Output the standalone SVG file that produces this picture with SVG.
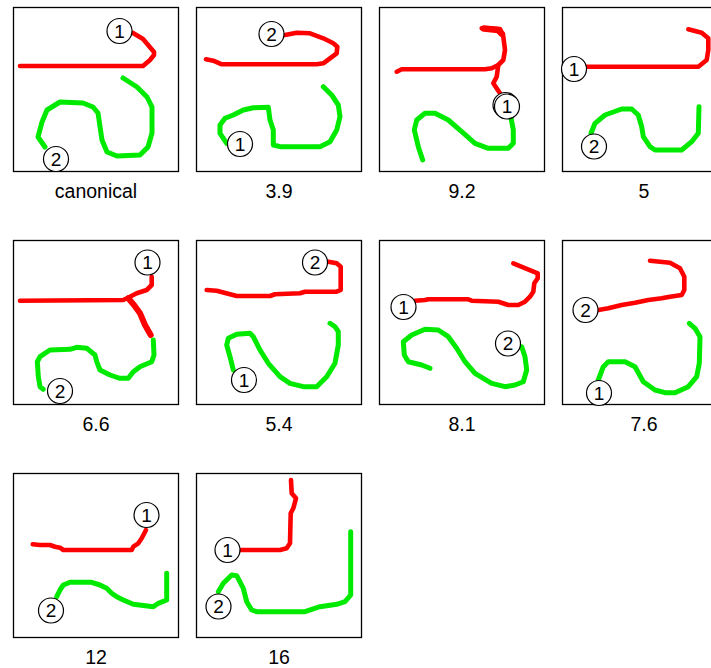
<svg xmlns="http://www.w3.org/2000/svg" width="711" height="668" viewBox="0 0 711 668">
<style>
.frame{fill:#fff;stroke:#000;stroke-width:1.3}
.red{fill:none;stroke:#ff0000;stroke-width:4.6;stroke-linecap:round;stroke-linejoin:round}
.green{fill:none;stroke:#00ea00;stroke-width:5;stroke-linecap:round;stroke-linejoin:round}
.mk{fill:#fff;stroke:#000;stroke-width:1.2}
.mkt{font-family:"Liberation Sans",Arial,sans-serif;font-size:19px;text-anchor:middle;fill:#000}
.lbl{font-family:"Liberation Sans",Arial,sans-serif;font-size:19.5px;text-anchor:middle;fill:#000}
</style>
<rect width="711" height="668" fill="#fff"/>

<g id="p-canonical">
<rect class="frame" x="13.5" y="7.5" width="165" height="164"/>
<polyline class="red" points="133,33 143,39 154,52 154,55 150,60 143,66 20,66"/>
<polyline class="green" points="123,78 137,87 147,97 152,107 152,133 148,147 140,155 117,156 107,152 102,140 98,113 93,107 83,103 60,102 47,110 42,122 38,137 45,147"/>
<circle class="mk" cx="119.5" cy="31" r="12.5"/><text class="mkt" x="119.5" y="37.8">1</text>
<circle class="mk" cx="56" cy="159" r="12.5"/><text class="mkt" x="56" y="165.8">2</text>
<text class="lbl" x="96" y="198">canonical</text>
</g>

<g id="p-3-9">
<rect class="frame" x="196.5" y="7.5" width="165" height="164"/>
<polyline class="red" points="285,35 296.7,32.7 310,33.3 323.3,38.3 333.3,43.3 337.3,46.7 336.7,53.3 330,58.3 323.3,63.3 316.7,64.3 221.7,64.3 213.3,60.7 206,59.3"/>
<polyline class="green" points="226.7,143.3 220,133.3 220,125 225,118.3 233.3,115 243.3,110 253.3,107.7 268.3,107.3 270,120 273.3,130 273.3,145 280,146.7 320,146.7 330,141.7 336.7,130 340,116.7 338.3,105 331.7,95 323.3,86.7"/>
<circle class="mk" cx="271.5" cy="34" r="12.5"/><text class="mkt" x="271.5" y="40.8">2</text>
<circle class="mk" cx="240" cy="144" r="12.5"/><text class="mkt" x="240" y="150.8">1</text>
<text class="lbl" x="279" y="198">3.9</text>
</g>

<g id="p-9-2">
<rect class="frame" x="379.5" y="7.5" width="165" height="164"/>
<polyline class="red" points="396.7,71.7 401.7,69.3 485,69.3 491.7,68.3 498.3,65 503.3,60 505,50 503.3,36.7 500,29 491,28.5 481.7,28.3"/>
<polyline class="red" style="stroke-width:6.5" points="484,28.5 498,30 502,34"/>
<polyline class="red" points="498.3,65 496.7,76.7 493.3,83.3 500,93.3 505,100"/>
<polyline class="green" points="510,112 513.3,130 513.3,143.3 508.3,148.3 488.3,148.3 475,143.3 461.7,131.7 448.3,120 435,113.3 425,113.3 416.7,120 414.3,130 418.3,146.7 422.7,160"/>
<circle class="mk" cx="505.5" cy="105" r="12.5"/>
<circle class="mk" cx="507" cy="106.5" r="12.5"/><text class="mkt" x="507" y="113.3">1</text>
<text class="lbl" x="462" y="198">9.2</text>
</g>

<g id="p-5">
<rect class="frame" x="562.5" y="7.5" width="165" height="164"/>
<polyline class="red" points="586.7,66.7 698.3,66.7 706.7,60 708.3,50 708.3,38.3 701.7,32.7 688.3,29.3"/>
<polyline class="green" points="591,133.3 595,123.3 605,115 621.7,109 631.7,109 638.3,115 641.7,126.7 643.3,136.7 650,146.7 655,150 681.7,150 691.7,141.7 698.3,133.3 699,106.7"/>
<circle class="mk" cx="574" cy="69" r="12.5"/><text class="mkt" x="574" y="75.8">1</text>
<circle class="mk" cx="594" cy="146.5" r="12.5"/><text class="mkt" x="594" y="153.3">2</text>
<text class="lbl" x="644" y="198">5</text>
</g>

<g id="p-6-6">
<rect class="frame" x="13.5" y="240.5" width="165" height="164"/>
<polyline class="red" points="151.7,276.7 151.7,285 146.7,290 136.7,293.3 130,296.7 123.3,300 20,300.7"/>
<polyline class="red" style="stroke-width:6" points="128.3,298.3 134,305 140,313.3 145,325 150.7,335"/>
<polyline class="green" points="153.3,340 154,355 151.7,361.7 140,366.7 133.3,371.7 128.3,378.3 120,378.3 110,375 100,370 96.7,361.7 95,355 86.7,348.3 76.7,347.3 70,349.3 50,350 40,356.7 37.3,361.7 38.3,376.7 40,386.7 43.3,389.3"/>
<circle class="mk" cx="147.5" cy="262.5" r="12.5"/><text class="mkt" x="147.5" y="269.3">1</text>
<circle class="mk" cx="60" cy="391" r="12.5"/><text class="mkt" x="60" y="397.8">2</text>
<text class="lbl" x="96" y="431">6.6</text>
</g>

<g id="p-5-4">
<rect class="frame" x="196.5" y="240.5" width="165" height="164"/>
<polyline class="red" points="328.3,261.7 336.7,263.3 340.7,266.7 340.7,290 336.7,291.7 305,291.7 300,293.3 275,294.3 270,296 236.7,296 216.7,290.7 206.7,290"/>
<polyline class="green" points="233.3,370 230,356.7 226.7,345 228.3,338.3 236.7,334.3 250,333.3 253.3,336.7 260,350 268.3,363.3 280,376.7 290,383.3 303.3,386.7 316.7,386.7 326.7,376.7 335,363.3 338.3,345 338.3,331.7 335,326.7 330,323.3"/>
<circle class="mk" cx="315" cy="262.5" r="12.5"/><text class="mkt" x="315" y="269.3">2</text>
<circle class="mk" cx="244" cy="380" r="12.5"/><text class="mkt" x="244" y="386.8">1</text>
<text class="lbl" x="279" y="431">5.4</text>
</g>

<g id="p-8-1">
<rect class="frame" x="379.5" y="240.5" width="165" height="164"/>
<polyline class="red" points="415,300.7 425,300 428.3,299.3 468.3,299.3 471.7,300.7 498.3,301.7 508.3,305 518.3,305 525,301.7 530,296.7 533.3,291.7 534.3,283.3 537.7,278.3 537.7,273.3 513.3,263.3"/>
<polyline class="green" points="521.7,346.7 525,356.7 526.7,370 523.3,381.7 515,385 505,386.7 491.7,383.3 475,373.3 465,361.7 456.7,348.3 448.3,336.7 438.3,330 425,329.3 411.7,335 403.3,341.7 404.3,355 408.3,361.7 421.7,365 430,368.3"/>
<circle class="mk" cx="403.5" cy="307" r="12.5"/><text class="mkt" x="403.5" y="313.8">1</text>
<circle class="mk" cx="508" cy="343.5" r="12.5"/><text class="mkt" x="508" y="350.3">2</text>
<text class="lbl" x="462" y="431">8.1</text>
</g>

<g id="p-7-6">
<rect class="frame" x="562.5" y="240.5" width="165" height="164"/>
<polyline class="red" points="598.3,310 608.3,308.3 621.7,305 635,302.7 648.3,300 661.7,298.3 670,296.7 681.7,295 684.3,290 684.3,276.7 680,268.3 670,262.7 650,260.7"/>
<polyline class="green" points="598.3,380 603.3,366.7 608.3,361.7 625,361.7 635,366.7 643.3,381.7 655,390 665,392.7 675,392.7 688.3,386.7 696.7,376.7 699.3,363.3 700,336.7 695,328.3 689.3,323.3"/>
<circle class="mk" cx="585.5" cy="310" r="12.5"/><text class="mkt" x="585.5" y="316.8">2</text>
<circle class="mk" cx="599" cy="393" r="12.5"/><text class="mkt" x="599" y="399.8">1</text>
<text class="lbl" x="644" y="431">7.6</text>
</g>

<g id="p-12">
<rect class="frame" x="13.5" y="473.5" width="165" height="164"/>
<polyline class="red" points="146,530 141.7,538.3 138.3,543.3 133.3,546.7 131.7,550 63.3,550 60,547.7 55,546.7 50,545 40,545 32.7,544.3"/>
<polyline class="green" points="56.7,596.7 60,590 63.3,585 70,582.3 91.7,582.3 100,585 106.7,588.3 111.7,593.3 116.7,596.7 123.3,600 133.3,604.3 153.3,606.7 158.3,603.3 166.7,600 166.7,573.3"/>
<circle class="mk" cx="146.5" cy="515" r="12.5"/><text class="mkt" x="146.5" y="521.8">1</text>
<circle class="mk" cx="51" cy="610.5" r="12.5"/><text class="mkt" x="51" y="617.3">2</text>
<text class="lbl" x="96" y="664">12</text>
</g>

<g id="p-16">
<rect class="frame" x="196.5" y="473.5" width="165" height="164"/>
<polyline class="red" points="240,550 280,550 286.7,548.3 290,543.3 290.7,513.3 293.3,508.3 296,498.3 291.7,493.3 291,480"/>
<polyline class="green" points="218.3,591.7 223.3,583.3 231.7,575 236.7,575.7 243.3,588.3 246.7,601.7 251.7,610 256.7,611.7 305,611.7 320,606.7 336.7,604.3 345,601.7 350.7,595 350.7,531.7"/>
<circle class="mk" cx="227.5" cy="550" r="12.5"/><text class="mkt" x="227.5" y="556.8">1</text>
<circle class="mk" cx="218.5" cy="606.5" r="12.5"/><text class="mkt" x="218.5" y="613.3">2</text>
<text class="lbl" x="279" y="664">16</text>
</g>
</svg>
